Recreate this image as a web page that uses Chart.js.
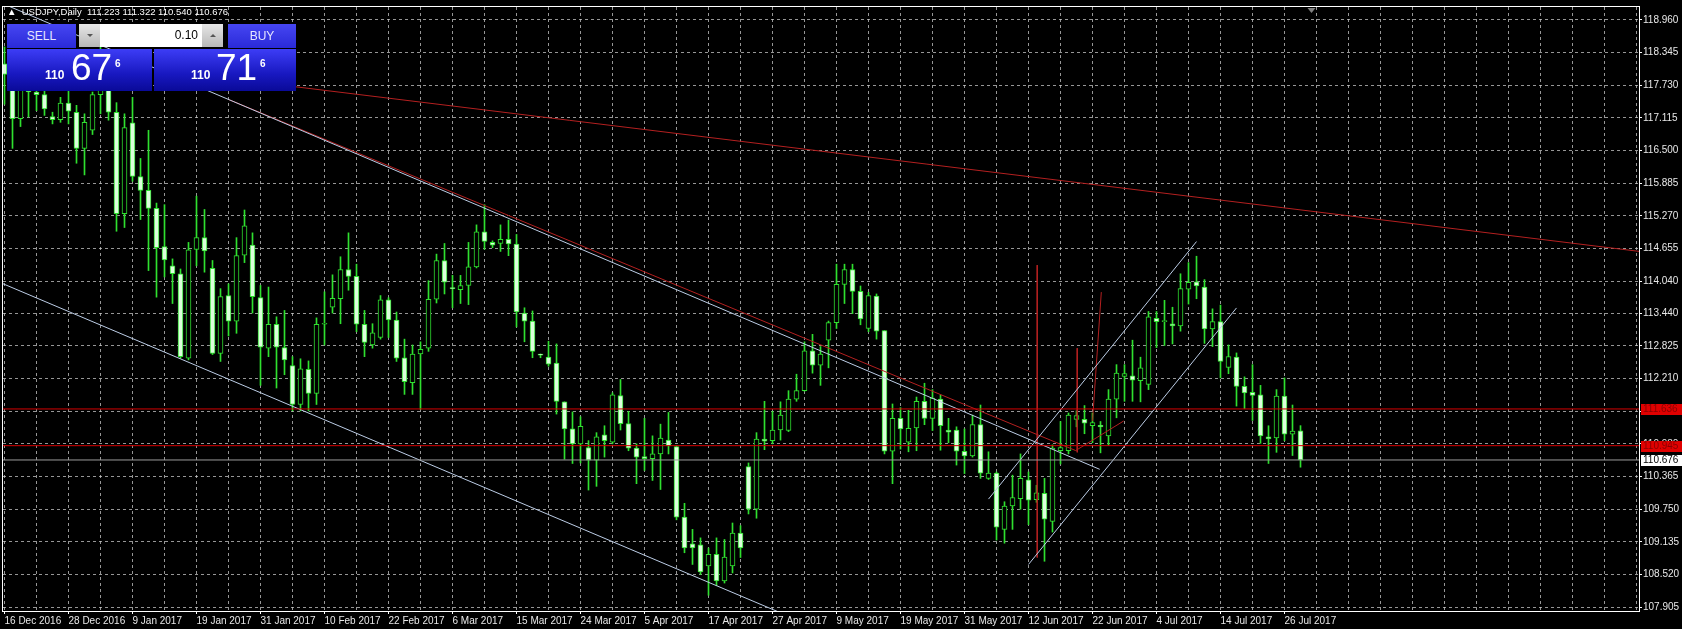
<!DOCTYPE html>
<html>
<head>
<meta charset="utf-8">
<script src="https://cdn.jsdelivr.net/npm/chart.js@4.4.0/dist/chart.umd.min.js"></script>
<style>
  html, body { margin: 0; padding: 0; background: #000; }
  #wrap { position: relative; width: 1682px; height: 629px; overflow: hidden; }
  #chart { display: block; }
  #hdr { position: absolute; left: 7px; top: 6px; color: #fff; font: 9.5px "Liberation Sans", Arial, sans-serif; white-space: pre; }
  #panel div, #panel span { position: absolute; }
  .btn { top: 24px; height: 24px; background: linear-gradient(#4646f2, #2a2ad8); color: #e6e6ff;
         font: 12px "Liberation Sans", Arial, sans-serif; line-height: 24px; text-align: center; }
  #sell { left: 7px; width: 69px; }
  #buy  { left: 228px; width: 68px; }
  #spin { left: 79px; top: 24px; width: 144px; height: 23px; background: #fff; }
  .arr { top: 0; width: 21px; height: 23px; background: linear-gradient(#e6e6e6, #b8b8b8); }
  .arr i { position: absolute; left: 8px; width: 0; height: 0; border-left: 3px solid transparent; border-right: 3px solid transparent; }
  .dn i { top: 10px; border-top: 3px solid #555; }
  .up i { top: 10px; border-bottom: 3px solid #555; }
  #lot { right: 25px; top: 0; color: #000; font: 12px "Liberation Sans", Arial, sans-serif; line-height: 23px; }
  .px { top: 49px; height: 42px; background: linear-gradient(#3d3df6, #1818c0 60%, #0a0a98); }
  #pxs { left: 7px; width: 145px; }
  #pxb { left: 154px; width: 142px; }
  .p1 { font: bold 12px "Liberation Sans", Arial, sans-serif; line-height: 12px; color: #fff; }
  .p2 { font: 37px "Liberation Sans", Arial, sans-serif; line-height: 37px; color: #fff; }
  .p3 { font: bold 10px "Liberation Sans", Arial, sans-serif; line-height: 10px; color: #fff; }
</style>
</head>
<body>
<div id="wrap">
  <canvas id="chart" width="1682" height="629"></canvas>
  <div id="hdr">▲  USDJPY,Daily  111.223 111.322 110.540 110.676</div>
  <div id="panel">
    <div class="btn" id="sell">SELL</div>
    <div id="spin">
      <div class="arr dn" style="left:0"><i></i></div>
      <div id="lot">0.10</div>
      <div class="arr up" style="right:0"><i></i></div>
    </div>
    <div class="btn" id="buy">BUY</div>
    <div class="px" id="pxs"></div>
    <div class="px" id="pxb"></div>
    <span class="p1" style="left:45px;top:69px">110</span>
    <span class="p2" style="left:71px;top:49px">67</span>
    <span class="p3" style="left:115px;top:59px">6</span>
    <span class="p1" style="left:191px;top:69px">110</span>
    <span class="p2" style="left:216px;top:49px">71</span>
    <span class="p3" style="left:260px;top:59px">6</span>
  </div>
</div>

<script>
// ------------------------------------------------------------
//  USDJPY Daily — 16 Dec 2016 .. 28 Jul 2017 (one bar per index)
// ------------------------------------------------------------
const OPEN = [
  118.13,117.93,117.10,117.90,117.60,117.55,117.14,117.08,117.39,117.22,
  116.54,116.88,117.55,117.75,117.22,115.31,117.02,116.01,115.75,115.41,
  114.69,114.33,114.18,112.59,114.64,114.86,114.28,112.68,113.77,113.29,
  114.53,114.72,113.73,112.78,113.23,112.79,112.45,111.72,112.38,111.93,
  113.23,113.55,113.71,114.26,114.13,113.23,112.84,112.98,113.69,113.31,
  112.60,112.13,112.67,112.78,113.70,114.43,113.91,113.88,113.96,114.31,
  114.97,114.77,114.75,114.83,114.74,113.44,113.29,112.66,112.61,112.50,
  111.77,111.26,110.98,110.91,110.67,111.15,111.01,111.89,111.36,110.90,
  110.74,110.70,110.79,111.05,110.93,109.60,109.10,109.08,108.68,108.90,
  108.40,108.68,109.30,110.55,109.75,111.07,111.04,111.24,111.23,111.82,
  111.98,112.73,112.46,112.93,113.26,113.98,114.26,113.85,113.15,113.76,
  113.11,110.84,111.46,111.01,111.28,111.78,111.46,111.82,111.24,111.24,
  110.84,110.75,111.34,110.33,110.43,109.37,109.81,109.95,110.30,109.93,
  110.05,109.52,110.85,110.85,111.44,111.44,111.32,111.33,111.13,111.82,
  112.25,112.26,112.17,112.10,113.34,113.28,113.24,113.20,113.89,114.03,
  113.93,113.14,113.28,112.42,112.61,112.06,111.95,111.90,111.11,111.09,
  111.88,111.16,111.223
];
const HIGH = [
  118.45,118.20,118.25,118.20,117.85,117.80,117.22,117.50,117.70,117.35,
  117.19,117.60,118.60,118.20,117.40,117.19,117.50,116.35,116.88,115.51,
  115.48,114.46,114.27,114.77,115.64,115.39,114.43,113.90,113.99,114.86,
  115.38,114.95,113.96,113.93,113.37,113.49,112.62,112.58,112.54,113.35,
  113.84,114.16,114.50,114.95,114.36,113.49,113.24,113.77,113.73,113.46,
  112.95,112.84,112.90,114.05,114.55,114.75,114.15,114.15,114.77,115.10,
  115.48,114.80,115.10,115.19,114.92,113.54,113.48,112.67,112.91,112.86,
  111.77,111.58,111.49,111.04,111.19,111.32,111.94,112.19,111.59,110.98,
  111.46,111.13,111.35,111.57,110.95,109.86,109.37,109.21,109.02,109.21,
  109.18,109.49,109.44,110.62,111.19,111.78,111.59,111.77,111.98,112.29,
  112.90,113.04,112.81,113.29,114.36,114.36,114.36,113.95,113.83,113.80,
  113.11,111.73,111.66,111.61,111.86,112.12,112.00,111.90,111.46,111.30,
  111.26,111.52,111.71,110.83,110.45,109.89,110.39,110.79,110.45,110.20,
  110.33,110.96,111.40,111.56,111.60,111.70,111.56,111.40,112.00,112.47,
  112.47,112.93,112.61,113.47,113.47,113.68,113.55,114.18,114.39,114.51,
  114.07,113.52,113.59,112.84,112.69,112.24,112.47,112.08,111.32,112.00,
  112.22,111.71,111.322
];
const LOW = [
  117.37,116.54,116.95,117.13,117.25,117.16,117.00,117.03,117.00,116.26,
  116.04,116.80,117.19,117.07,114.98,115.05,115.92,115.20,114.24,113.74,
  114.12,113.62,112.59,112.56,114.33,114.21,112.66,112.53,113.01,113.06,
  114.39,113.44,112.08,112.62,112.03,112.28,111.60,111.60,111.60,111.72,
  112.84,113.44,113.24,113.87,113.09,112.62,112.78,112.95,112.98,112.53,
  111.91,111.91,111.63,112.72,113.63,113.80,113.54,113.62,113.60,114.29,
  114.64,114.67,114.60,114.52,113.18,112.90,112.60,112.60,112.44,111.54,
  110.69,110.61,110.62,110.11,110.18,110.73,110.98,111.24,110.85,110.23,
  110.48,110.29,110.12,110.79,109.55,108.93,108.71,108.52,108.13,108.31,
  108.36,108.55,108.84,109.66,109.58,110.87,110.98,111.05,111.21,111.78,
  111.97,112.31,112.08,112.41,113.15,113.62,113.43,113.22,113.09,112.95,
  110.79,110.23,110.88,110.83,110.85,111.34,111.23,110.86,111.00,110.58,
  110.42,110.73,110.33,110.31,109.17,109.11,109.37,109.75,109.46,109.88,
  108.77,109.32,110.60,110.79,111.30,111.17,111.00,110.81,110.95,111.47,
  111.78,111.78,111.77,112.00,112.79,112.83,112.86,113.10,113.61,113.71,
  112.87,112.81,112.22,112.30,111.69,111.64,111.42,110.99,110.61,110.82,
  111.04,110.76,110.540
];
const CLOSE = [
  117.93,117.10,117.90,117.60,117.55,117.28,117.08,117.39,117.24,116.54,
  117.03,117.55,117.75,117.22,115.31,116.93,116.01,115.75,115.41,114.67,
  114.44,114.18,112.62,114.63,114.86,114.61,112.68,113.75,113.29,114.52,
  115.08,113.75,112.80,113.23,112.80,112.56,111.72,112.39,111.93,113.23,
  113.24,113.72,114.26,114.13,113.23,112.89,113.07,113.69,113.31,112.59,
  112.15,112.67,112.76,113.70,114.43,114.02,113.90,113.96,114.31,114.97,
  114.79,114.72,114.83,114.74,113.46,113.29,112.72,112.65,112.48,111.78,
  111.26,110.98,111.31,110.67,111.11,111.04,111.90,111.36,110.90,110.73,
  110.70,110.79,111.09,110.94,109.60,109.02,109.02,108.57,108.90,108.40,
  108.85,109.30,109.02,109.75,111.07,111.03,111.24,111.52,111.82,111.98,
  112.73,112.46,112.67,113.26,113.98,114.26,113.85,113.33,113.77,113.10,
  110.84,111.46,111.26,111.27,111.78,111.46,111.84,111.32,111.20,110.84,
  110.75,111.34,110.43,110.43,109.41,109.81,109.97,110.33,109.92,110.06,
  109.56,110.90,110.91,111.52,111.51,111.37,111.38,111.30,111.82,112.31,
  112.30,112.18,112.41,113.37,113.28,113.28,113.20,113.90,114.02,113.95,
  113.14,113.28,112.53,112.62,112.06,111.94,111.89,111.13,111.07,111.88,
  111.16,111.22,110.676
];

// time axis: one label every 8 bars
const DATE_LABELS = [
  '16 Dec 2016','28 Dec 2016','9 Jan 2017','19 Jan 2017','31 Jan 2017','10 Feb 2017',
  '22 Feb 2017','6 Mar 2017','15 Mar 2017','24 Mar 2017','5 Apr 2017','17 Apr 2017',
  '27 Apr 2017','9 May 2017','19 May 2017','31 May 2017','12 Jun 2017','22 Jun 2017',
  '4 Jul 2017','14 Jul 2017','26 Jul 2017'
];
// price axis
const PRICE_TICKS = [
  118.960,118.345,117.730,117.115,116.500,115.885,115.270,114.655,114.040,113.440,
  112.825,112.210,111.595,110.980,110.365,109.750,109.135,108.520,107.905
];

// horizontal levels + bid
const LEVELS = [111.636, 110.945];
const BID = 110.676;

// drawn objects: [barIndex, price] end points
const TL_UPPER   = [[0, 119.25], [136.9, 110.50]];
const TL_RED_B   = [[28, 117.46], [133.9, 110.853]];
const TL_RED_C   = [[26, 117.89], [204.4, 114.60]];
const TL_LOWER   = [[-0.5, 114.012], [100, 107.61]];
const CH_UPPER   = [[123, 109.94], [149, 114.786]];
const CH_LOWER   = [[128, 108.71], [154, 113.537]];
const RED_V1     = [[129.09, 114.344], [129.09, 108.84]];
const RED_V2     = [[134.09, 112.78], [134.09, 110.82]];
const RED_S      = [[137.1, 113.835], [136.0, 111.41]];
const RED_J      = [[133.9, 110.853], [139.9, 111.41]];

// colours
const CANDLE    = '#2fe02f';
const BEAR_FILL = '#dcffdc';
const GRID      = 'rgba(200,200,200,0.75)';
const STEEL     = '#bccde6';
const FIREBRICK = '#b42020';
const LEVEL_RED = '#d40000';

const X_MIN = -0.1875, X_MAX = 204.3125;
const Y_MIN = 107.834, Y_MAX = 119.20;

function seg(pts, color) {
  return {
    type: 'line',
    data: pts.map(p => ({ x: p[0], y: p[1] })),
    borderColor: color,
    borderWidth: 1,
    pointRadius: 0,
    order: 0
  };
}

const bodies = {
  type: 'bar',
  data: OPEN.map((o, i) => ({ x: i, y: [o, CLOSE[i]] })),
  backgroundColor: OPEN.map((o, i) => o > CLOSE[i] ? BEAR_FILL : '#000'),
  borderColor: CANDLE,
  borderWidth: 1,
  borderSkipped: false,
  barThickness: 5,
  minBarLength: 1,
  grouped: false,
  order: 1
};
const wicks = {
  type: 'bar',
  data: LOW.map((l, i) => ({ x: i, y: [l, HIGH[i]] })),
  backgroundColor: CANDLE,
  borderWidth: 0,
  barThickness: 1,
  grouped: false,
  order: 2
};

const lines = [
  seg([[X_MIN, LEVELS[0]], [X_MAX, LEVELS[0]]], LEVEL_RED),
  seg([[X_MIN, LEVELS[1]], [X_MAX, LEVELS[1]]], LEVEL_RED),
  seg([[X_MIN, BID], [X_MAX, BID]], '#9c9c9c'),
  seg(TL_UPPER, STEEL),
  seg(TL_LOWER, STEEL),
  seg(CH_UPPER, STEEL),
  seg(CH_LOWER, STEEL),
  seg(TL_RED_B, FIREBRICK),
  seg(TL_RED_C, FIREBRICK),
  seg(RED_V1, FIREBRICK),
  seg(RED_V2, FIREBRICK),
  seg(RED_S, FIREBRICK),
  seg(RED_J, FIREBRICK)
];

// frame, price tags on the right axis, chart-shift marker
const overlay = {
  id: 'overlay',
  afterDraw(chart) {
    const { ctx, chartArea: a, scales: { x, y } } = chart;
    ctx.save();
    ctx.strokeStyle = '#fff';
    ctx.lineWidth = 1;
    ctx.strokeRect(a.left - 0.5, a.top - 0.5, a.right - a.left + 1, a.bottom - a.top + 1);

    const tags = [
      { v: LEVELS[0], bg: '#e00000', fg: '#8a0000' },
      { v: LEVELS[1], bg: '#e00000', fg: '#8a0000' },
      { v: BID,       bg: '#ffffff', fg: '#000000' }
    ];
    ctx.font = '10px "Liberation Sans", Arial, sans-serif';
    ctx.textBaseline = 'middle';
    tags.forEach(t => {
      const py = Math.round(y.getPixelForValue(t.v));
      ctx.fillStyle = t.bg;
      ctx.fillRect(a.right + 2, py - 5, chart.width - a.right - 2, 11);
      ctx.fillStyle = t.fg;
      ctx.fillText(t.v.toFixed(3), a.right + 4, py + 0.5);
    });

    // shift marker after the last bar
    const sx = Math.round(x.getPixelForValue(OPEN.length + 0.25)) + 0.5;
    ctx.fillStyle = '#808080';
    ctx.beginPath();
    ctx.moveTo(sx - 4, a.top + 1);
    ctx.lineTo(sx + 4, a.top + 1);
    ctx.lineTo(sx, a.top + 6);
    ctx.closePath();
    ctx.fill();
    ctx.restore();
  }
};

const X_TICKS = [];
for (let i = 0; i <= 204; i += 4) X_TICKS.push(i);
const isLabelled = v => v % 8 === 0 && v / 8 < DATE_LABELS.length;

new Chart(document.getElementById('chart'), {
  type: 'bar',
  data: { datasets: [bodies, wicks, ...lines] },
  options: {
    responsive: false,
    animation: false,
    devicePixelRatio: 1,
    layout: { padding: { left: 3, top: 1, right: 0, bottom: 0 } },
    plugins: { legend: { display: false }, tooltip: { enabled: false } },
    scales: {
      x: {
        type: 'linear',
        min: X_MIN,
        max: X_MAX,
        offset: false,
        afterBuildTicks: s => { s.ticks = X_TICKS.map(v => ({ value: v })); },
        afterFit: s => { s.height = 18; },
        grid: {
          offset: false,
          color: GRID,
          lineWidth: 1,
          tickLength: 3,
          tickColor: c => (c.tick && isLabelled(c.tick.value)) ? '#fff' : 'rgba(0,0,0,0)'
        },
        border: { display: false, dash: [3, 3] },
        ticks: {
          autoSkip: false,
          maxRotation: 0,
          minRotation: 0,
          align: 'start',
          padding: 1,
          color: '#e8e8e8',
          font: { family: '"Liberation Sans", Arial, sans-serif', size: 10 },
          callback: v => isLabelled(v) ? DATE_LABELS[v / 8] : ''
        }
      },
      y: {
        type: 'linear',
        position: 'right',
        min: Y_MIN,
        max: Y_MAX,
        afterBuildTicks: s => { s.ticks = PRICE_TICKS.map(v => ({ value: v })); },
        afterFit: s => { s.width = 43; },
        grid: { color: GRID, lineWidth: 1, tickLength: 3, tickColor: '#fff' },
        border: { display: false, dash: [3, 3] },
        ticks: {
          padding: 1,
          color: '#e8e8e8',
          font: { family: '"Liberation Sans", Arial, sans-serif', size: 10 },
          callback: v => v.toFixed(3)
        }
      }
    }
  },
  plugins: [overlay]
});
</script>
</body>
</html>
